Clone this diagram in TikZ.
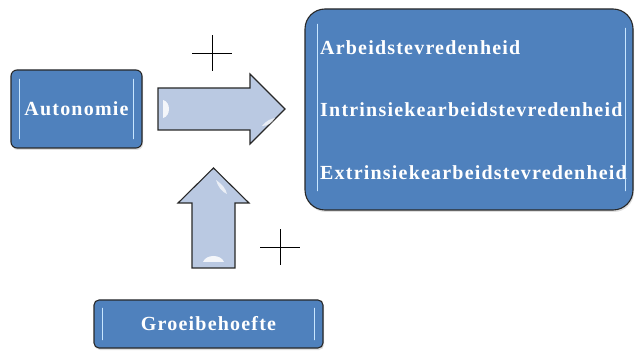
\documentclass[tikz,border=0pt]{standalone}
\usepackage{fontspec}
\setmainfont{Liberation Serif}
\newfontfamily\boxfont[LetterSpace=6]{Liberation Serif}
\usetikzlibrary{shadows}
\definecolor{boxblue}{RGB}{79,129,189}
\definecolor{arrowblue}{RGB}{186,201,226}
\definecolor{edgegray}{RGB}{40,40,40}
\definecolor{glint}{RGB}{200,230,255}
\tikzset{
  bluebox/.style={draw=edgegray, line width=1.1pt, fill=boxblue, inner sep=0pt,
    drop shadow={opacity=0.25, shadow xshift=1pt, shadow yshift=-2pt}},
  boxtext/.style={text=white, font=\boxfont\bfseries\fontsize{20}{22}\selectfont, inner sep=0pt},
  blockarrow/.style={draw=edgegray, line width=1.1pt, fill=arrowblue, line join=miter},
  glintline/.style={draw=glint, line width=1.6pt, line cap=round},
  plusline/.style={draw=black, line width=0.9pt}
}
\begin{document}
\begin{tikzpicture}[x=1pt,y=-1pt]
\useasboundingbox (0,0) rectangle (635,358);
% boxes
\node[bluebox, rounded corners=6pt, minimum width=131pt, minimum height=78pt] (auto) at (76.5,109) {};
\node[boxtext] (autotext) at (auto.center) {Autonomie};
\node[bluebox, rounded corners=20pt, minimum width=328pt, minimum height=201pt] (outc) at (469,109.5) {};
\node[boxtext, anchor=west] (l1) at (320,48) {Arbeidstevredenheid};
\node[boxtext, anchor=west] (l2) at (320,110) {Intrinsiekearbeidstevredenheid};
\node[boxtext, anchor=west] (l3) at (320,173) {Extrinsiekearbeidstevredenheid};
\node[bluebox, rounded corners=5pt, minimum width=229pt, minimum height=48pt] (groei) at (208.5,324) {};
\node[boxtext] (groeitext) at (groei.center) {Groeibehoefte};
% glints on boxes
\draw[glintline] ([xshift=9pt,yshift=-10pt]auto.north west) -- ([xshift=9pt,yshift=10pt]auto.south west);
\draw[glintline] ([xshift=-9pt,yshift=-10pt]auto.north east) -- ([xshift=-9pt,yshift=10pt]auto.south east);
\draw[glintline] ([xshift=13pt,yshift=-16pt]outc.north west) -- ([xshift=13pt,yshift=20pt]outc.south west);
\draw[glintline] ([xshift=-8pt,yshift=-20pt]outc.north east) -- ([xshift=-8pt,yshift=20pt]outc.south east);
\draw[glintline] ([xshift=9pt,yshift=-9pt]groei.north west) -- ([xshift=9pt,yshift=9pt]groei.south west);
\draw[glintline] ([xshift=-9pt,yshift=-9pt]groei.north east) -- ([xshift=-9pt,yshift=9pt]groei.south east);
% right block arrow
\coordinate (ra) at (158,109);
\draw[blockarrow] (158,88) -- (250,88) -- (250,74) -- (285,109) -- (250,144) -- (250,130) -- (158,130) -- cycle;
\fill[white, opacity=0.85] (163,100) .. controls (171,102) and (171,116) .. (163,118) -- cycle;
\fill[white, opacity=0.7] (262,126) .. controls (266,121) and (270,119) .. (275,118) .. controls (272,123) and (268,126) .. (262,126) -- cycle;
% up block arrow
\coordinate (ua) at (213.5,268);
\draw[blockarrow] (192,268) -- (192,203) -- (178,203) -- (213.5,168) -- (249,203) -- (235,203) -- (235,268) -- cycle;
\fill[white, opacity=0.85] (203,262) .. controls (206,254) and (221,254) .. (224,262) -- cycle;
\fill[white, opacity=0.7] (216,180) .. controls (222,184) and (226,189) .. (227,194) .. controls (222,192) and (218,187) .. (216,180) -- cycle;
% plus signs
\coordinate (p1) at (212,53);
\draw[plusline] ([xshift=-20pt]p1) -- ([xshift=20pt]p1);
\draw[plusline] ([yshift=-18pt]p1) -- ([yshift=18pt]p1);
\coordinate (p2) at (280,247);
\draw[plusline] ([xshift=-20pt]p2) -- ([xshift=20pt]p2);
\draw[plusline] ([yshift=-18pt]p2) -- ([yshift=18pt]p2);
\end{tikzpicture}
\end{document}
